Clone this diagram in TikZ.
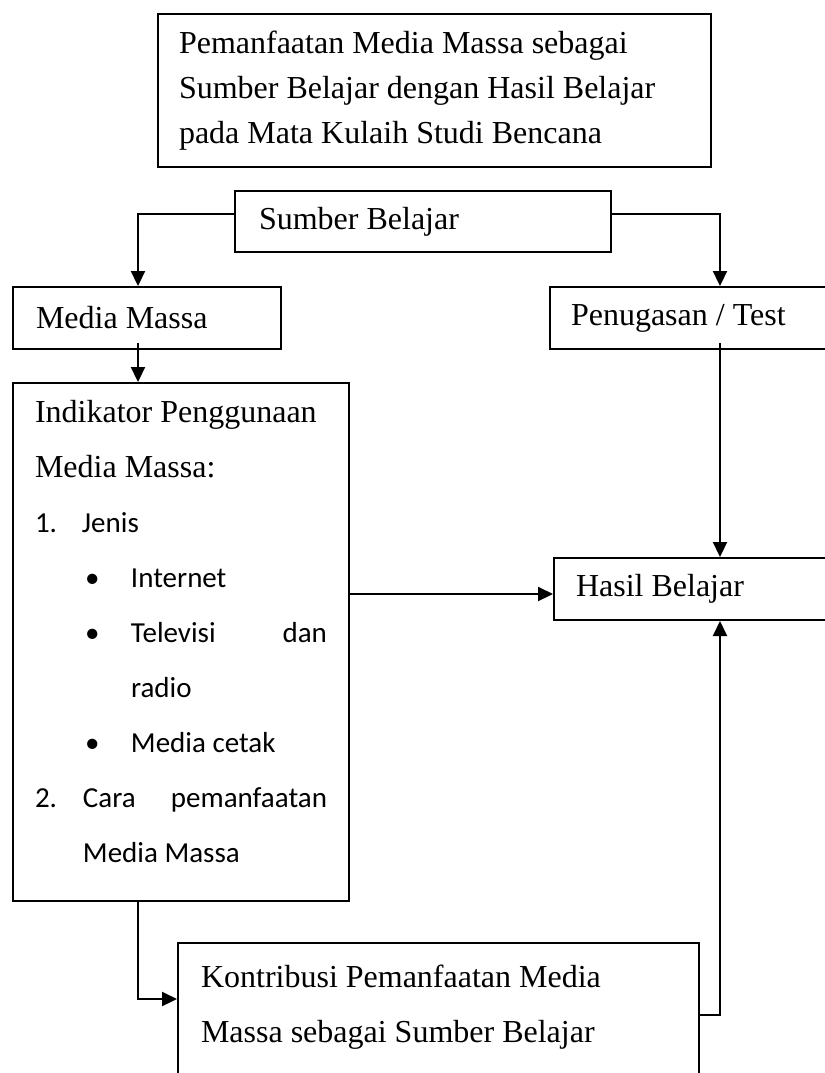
\documentclass[tikz,border=0pt]{standalone}
\usepackage{fontspec}
\setmainfont{Liberation Serif}
\newfontfamily\cali{Carlito}
\usetikzlibrary{arrows.meta}
\tikzset{
  >={Triangle[length=7.5pt,width=7pt]},
  box/.style={draw=black, line width=1pt, anchor=north west, align=flush left,
              inner ysep=0pt, font=\fontsize{16}{27.5}\selectfont},
  arr/.style={->, draw=black, line width=1.1pt},
}
\newcommand{\lst}{\cali\fontsize{14.5}{27.5}\selectfont}

\begin{document}
\begin{tikzpicture}[x=0.5pt,y=-0.5pt]
    \path[use as bounding box, clip] (0,0) rectangle (825,1073);
    \fill[white] (0,0) rectangle (825,1073);
    % nodes
    \node[box, font=\fontsize{16}{22.5}\selectfont, inner xsep=10.5pt, text width=255.5pt,
          minimum height=76.5pt] (ttl) at (157,13)
      {Pemanfaatan Media Massa sebagai\\ Sumber Belajar dengan Hasil Belajar\\ pada Mata Kulaih Studi Bencana};
    \node[box, inner xsep=12pt, text width=164pt, minimum height=30.5pt] (sb) at (234,190) {Sumber Belajar};
    \node[box, inner xsep=11.5pt, text width=111pt, minimum height=31pt] (mm) at (12,286) {Media Massa};
    \node[box, inner xsep=10.5pt, text width=124.5pt, minimum height=31pt] (pnt) at (549,286) {Penugasan / Test};
    \node[box, inner xsep=11pt, text width=146pt, minimum height=259pt] (ind) at (12,382) {%
      Indikator Penggunaan\\
      Media Massa:\\
      {\lst\makebox[23.5pt][l]{1.}Jenis}\\
      {\lst\hspace*{25pt}\makebox[23pt][l]{\textbullet}Internet}\\
      {\lst\hspace*{25pt}\makebox[23pt][l]{\textbullet}Televisi\hspace{\fill}dan}\\
      {\lst\hspace*{48pt}radio}\\
      {\lst\hspace*{25pt}\makebox[23pt][l]{\textbullet}Media cetak}\\
      {\lst\makebox[24pt][l]{2.}Cara\hspace{\fill}pemanfaatan}\\
      {\lst\hspace*{24pt}Media Massa}\rule[-11pt]{0pt}{11pt}};
    \node[box, inner xsep=11pt, text width=121.5pt, minimum height=31pt] (hb) at (553,557) {Hasil Belajar};
    \node[box, inner xsep=11.5pt, text width=237.5pt, minimum height=88pt] (kb) at (177,942)
      {Kontribusi Pemanfaatan Media\\ Massa sebagai Sumber Belajar\\ \mbox{}};
    % helper points
    \coordinate (rx) at ([xshift=85.5pt,yshift=3.5pt]pnt.south west);
    \coordinate (hin) at ([yshift=-2.5pt]hb.west);
    % connectors
    \draw[arr] ([yshift=3.75pt]sb.west) -| ([xshift=-4.5pt]mm.north);
    \draw[arr] ([yshift=3.75pt]sb.east) -| ([xshift=85.5pt]pnt.north west);
    \draw[arr] ([xshift=-4.5pt,yshift=3.5pt]mm.south) -- ([xshift=-21.5pt]ind.north);
    \draw[arr] (hin -| ind.east) -- (hin);
    \draw[arr] (rx) -- (rx |- hb.north);
    \draw[arr] ([xshift=-21.5pt]ind.south) |- ([yshift=16pt]kb.west);
    \draw[arr] ([yshift=8pt]kb.east) -| (rx |- hb.south);
\end{tikzpicture}
\end{document}
